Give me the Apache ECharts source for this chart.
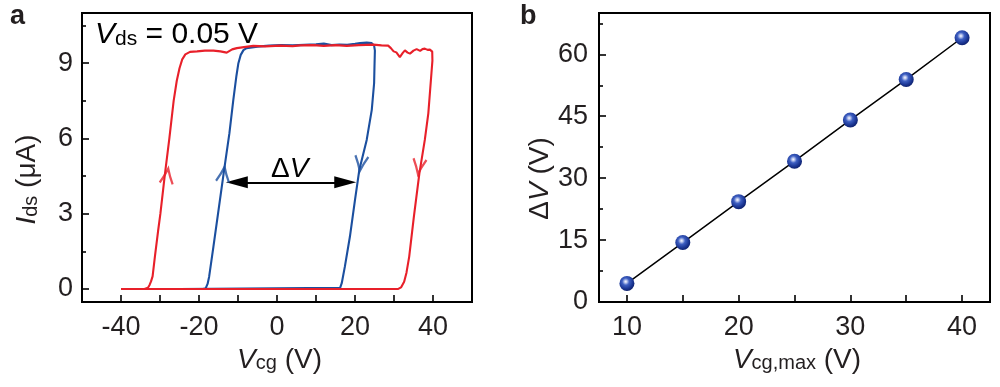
<!DOCTYPE html>
<html><head><meta charset="utf-8">
<script src="https://cdn.jsdelivr.net/npm/echarts@6/dist/echarts.min.js"></script>
<style>html,body{margin:0;padding:0;background:#fff}#c{width:1000px;height:387px}</style>
</head><body><div id="c"></div>
<script>
// ---------- Panel a data: [Vcg (V), Ids (uA)] along the sweep ----------
const redLoop = [
[-40,0],[-34,0],[-33.5,0.01],[-33.1,0.05],[-32.7,0.15],[-32.3,0.3],[-31.9,0.5],[-31.3,1.3],[-30.5,2.3],[-29.9,3.0],[-28.8,4.5],[-27.6,6.0],[-26.5,7.5],[-25.7,8.3],[-25.0,8.8],[-24.3,9.15],[-23.5,9.35],[-22.3,9.45],
[-20.5,9.47],[-18.5,9.5],[-16.3,9.5],[-14.5,9.47],[-12.9,9.42],[-11.5,9.55],[-10.3,9.6],[-8,9.65],[-6.1,9.69],[-3,9.67],[0.8,9.7],[4,9.68],[6,9.71],[9.3,9.72],[12,9.69],[15,9.72],[17.9,9.69],[21,9.72],[24.7,9.74],[26.8,9.71],[28.5,9.7],[29.2,9.6],[29.9,9.47],[30.6,9.43],[31.5,9.24],[32.2,9.4],[32.8,9.51],[33.5,9.42],[34.1,9.38],[35,9.5],[35.8,9.56],[36.7,9.49],[37.3,9.56],[37.9,9.58],[38.6,9.53],[39.2,9.54],[39.8,9.46],
[39.85,9.1],[39.6,8.6],[39.3,8.0],[38.8,7.0],[37.9,5.94],[36.5,4.6],[35.1,2.88],[33.9,1.29],[33.2,0.65],[32.6,0.29],[31.8,0.06],[31.1,0],[-40,0]
];
const blueLoop = [
[-25,0],[-19,0],[-18.3,0.02],[-17.8,0.2],[-17.4,0.49],[-16.3,1.69],[-15.1,3.02],[-13.6,4.7],[-12.2,6.21],[-11.2,7.54],[-10.4,8.5],[-9.9,9.0],[-9.3,9.33],[-8.6,9.52],[-7.8,9.6],[-5,9.66],[-2,9.7],[1,9.72],[4,9.71],[7,9.73],[10,9.75],[12,9.78],[14,9.72],[16,9.74],[18,9.73],[20,9.77],[21.3,9.8],[23,9.82],[24.3,9.8],[24.9,9.7],[25.1,9.5],[25.0,8.9],[24.9,8.2],[24.3,7.14],[23.0,5.94],[21.1,4.74],[20.0,3.55],[18.7,2.09],[17.4,0.89],[16.6,0.23],[16.2,0.05],[15.8,0],[-25,0]
];
// sweep-direction arrowheads: [Vcg, Ids, rotation]
const redArrows = [[-28.15,4.5,-8],[36.4,4.88,172]];
const blueArrows = [[-13.7,4.57,-8],[21.5,5.0,172]];
// Delta V double arrow: [from Vcg, to Vcg, Ids]
const deltaArrow = [-10.3, 17.5, 4.25];

// ---------- Panel b data ----------
const vcgMax = [10, 15, 20, 25, 30, 35, 40];
const deltaV = [4.5, 14.4, 24.3, 34.1, 44.1, 53.9, 64.0];

// ---------- ticks ----------
const aXLabels = [-40, -20, 0, 20, 40];
const aXTicks = [-40, -30, -20, -10, 0, 10, 20, 30, 40];
const aYLabels = [0, 3, 6, 9];
const aYMinor = [1.5, 4.5, 7.5, 10.5];
const bXLabels = [10, 20, 30, 40];
const bXTicks = [10, 15, 20, 25, 30, 35, 40];
const bYLabels = [0, 15, 30, 45, 60];
const bYMinor = [7.5, 22.5, 37.5, 52.5, 67.5];

const FF = "'Liberation Sans', Arial, Helvetica, sans-serif";
const TC = '#231f20';
const RED = '#e8202a', BLUE = '#1b4f9f';

function rich(mainSize, mainLH, subSize, subLH) {
  return {
    n: {fontSize: mainSize, lineHeight: mainLH, verticalAlign: 'bottom', fontFamily: FF, color: TC},
    i: {fontSize: mainSize, lineHeight: mainLH, verticalAlign: 'bottom', fontFamily: FF, color: TC, fontStyle: 'italic'},
    s: {fontSize: subSize, lineHeight: subLH, verticalAlign: 'bottom', fontFamily: FF, color: TC}
  };
}

const tickStyle = {color: '#000', width: 1.6};
function xAxisDef(grid, min, max, labels, ticks, name, nameRich) {
  return {
    type: 'value', gridIndex: grid, min: min, max: max, position: 'bottom',
    axisLine: {show: false, onZero: false},
    splitLine: {show: false},
    axisTick: {show: true, inside: true, length: 7, lineStyle: tickStyle, customValues: ticks},
    axisLabel: {show: true, customValues: labels, fontSize: 27, fontFamily: FF, color: TC, margin: 12},
    name: name, nameLocation: 'middle', nameGap: 37,
    nameTextStyle: {rich: nameRich, padding: [0, 0, 0, 5]}
  };
}
function yAxisDef(grid, min, max, labels, name, nameRich, gap, pad, margin) {
  return {
    type: 'value', gridIndex: grid, min: min, max: max, position: 'left',
    axisLine: {show: false, onZero: false},
    splitLine: {show: false},
    axisTick: {show: true, inside: true, length: 7, lineStyle: tickStyle, customValues: labels},
    axisLabel: {show: true, customValues: labels, fontSize: 27, fontFamily: FF, color: TC, margin: margin},
    name: name, nameLocation: 'middle', nameGap: gap, nameRotate: 90,
    nameTextStyle: {rich: nameRich, padding: [0, pad, 0, 0]}
  };
}
function yMinorDef(grid, min, max, ticks) {
  return {
    type: 'value', gridIndex: grid, min: min, max: max, position: 'left', offset: 0,
    axisLine: {show: false, onZero: false}, splitLine: {show: false},
    axisTick: {show: true, inside: true, length: 4, lineStyle: tickStyle, customValues: ticks},
    axisLabel: {show: false}
  };
}

const chevron = 'path://M0,15 Q4.5,7 7,0 Q9.5,7 14,15';
function arrowSeries(arr, color) {
  return {
    type: 'scatter', xAxisIndex: 0, yAxisIndex: 0, z: 5, silent: true,
    symbol: chevron, symbolSize: [14, 15], symbolKeepAspect: true,
    itemStyle: {color: 'transparent', borderColor: color, borderWidth: 2.3},
    data: arr.map(a => ({value: [a[0], a[1]], symbolRotate: a[2]}))
  };
}

const sphere = {
  type: 'radial', x: 0.42, y: 0.38, r: 0.62,
  colorStops: [
    {offset: 0, color: '#f8f9ff'},
    {offset: 0.13, color: '#c3cdf0'},
    {offset: 0.38, color: '#3e5fc2'},
    {offset: 0.75, color: '#1c3795'},
    {offset: 1, color: '#0f2270'}
  ]
};

const chart = echarts.init(document.getElementById('c'), null, {renderer: 'canvas'});
chart.setOption({
  animation: false,
  backgroundColor: '#fff',
  grid: [
    {left: 82, top: 13, width: 390, height: 289, show: true, borderColor: '#000', borderWidth: 2, backgroundColor: 'transparent', containLabel: false, outerBoundsMode: 'none'},
    {left: 599, top: 13, width: 391, height: 289, show: true, borderColor: '#000', borderWidth: 2, backgroundColor: 'transparent', containLabel: false, outerBoundsMode: 'none'}
  ],
  xAxis: [
    xAxisDef(0, -50, 50, aXLabels, aXTicks, '{i|V}{s|cg}{n| (V)}', rich(28, 34, 20, 27.7)),
    xAxisDef(1, 7.5, 42.5, bXLabels, bXTicks, '{i|V}{s|cg,max}{n| (V)}', rich(28, 34, 20, 27.7))
  ],
  yAxis: [
    yAxisDef(0, -0.52, 11, aYLabels, '{i|I}{s|ds}{n| (μA)}', rich(28, 34, 20, 14.7), 41, 44, 9),
    yMinorDef(0, -0.52, 11, aYMinor),
    yAxisDef(1, 0, 70, bYLabels, '{n|Δ}{i|V}{n| (V)}', rich(28, 34, 20, 14.7), 45, 42, 11),
    yMinorDef(1, 0, 70, bYMinor)
  ],
  series: [
    {
      type: 'line', xAxisIndex: 0, yAxisIndex: 0, z: 2, silent: true,
      showSymbol: false, symbol: 'none',
      lineStyle: {color: BLUE, width: 2.1}, itemStyle: {color: BLUE},
      data: blueLoop,
      markLine: {
        silent: true, symbol: ['triangle', 'triangle'], symbolSize: [12, 22],
        lineStyle: {color: '#000', width: 2, type: 'solid'},
        itemStyle: {color: '#000'},
        label: {show: false},
        data: [[{coord: [deltaArrow[0], deltaArrow[2]]}, {coord: [deltaArrow[1], deltaArrow[2]]}]]
      }
    },
    {
      type: 'line', xAxisIndex: 0, yAxisIndex: 0, z: 3, silent: true,
      showSymbol: false, symbol: 'none',
      lineStyle: {color: RED, width: 2.1}, itemStyle: {color: RED},
      data: redLoop
    },
    arrowSeries(redArrows, RED),
    arrowSeries(blueArrows, BLUE),
    {
      type: 'line', xAxisIndex: 1, yAxisIndex: 2, z: 3, silent: true,
      symbol: 'circle', symbolSize: 15, showSymbol: true,
      lineStyle: {color: '#000', width: 1.5},
      itemStyle: {color: sphere, borderWidth: 0},
      data: vcgMax.map((v, k) => [v, deltaV[k]])
    }
  ],
  graphic: [
    {type: 'text', x: 10, y: 2.6, style: {text: 'a', font: "bold 27px 'Liberation Sans', Arial, sans-serif", fill: TC}},
    {type: 'text', x: 520, y: 2.6, style: {text: 'b', font: "bold 27px 'Liberation Sans', Arial, sans-serif", fill: TC}},
    {type: 'text', x: 95, y: 13.5, style: {text: '{i|V}{s|ds}{n| = 0.05 V}', rich: rich(30, 36, 21, 15)}},
    {type: 'text', x: 271, y: 148.8, style: {text: '{n|Δ}{i|V}', rich: rich(28, 34, 20, 14.4)}}
  ]
});
</script>
</body></html>
